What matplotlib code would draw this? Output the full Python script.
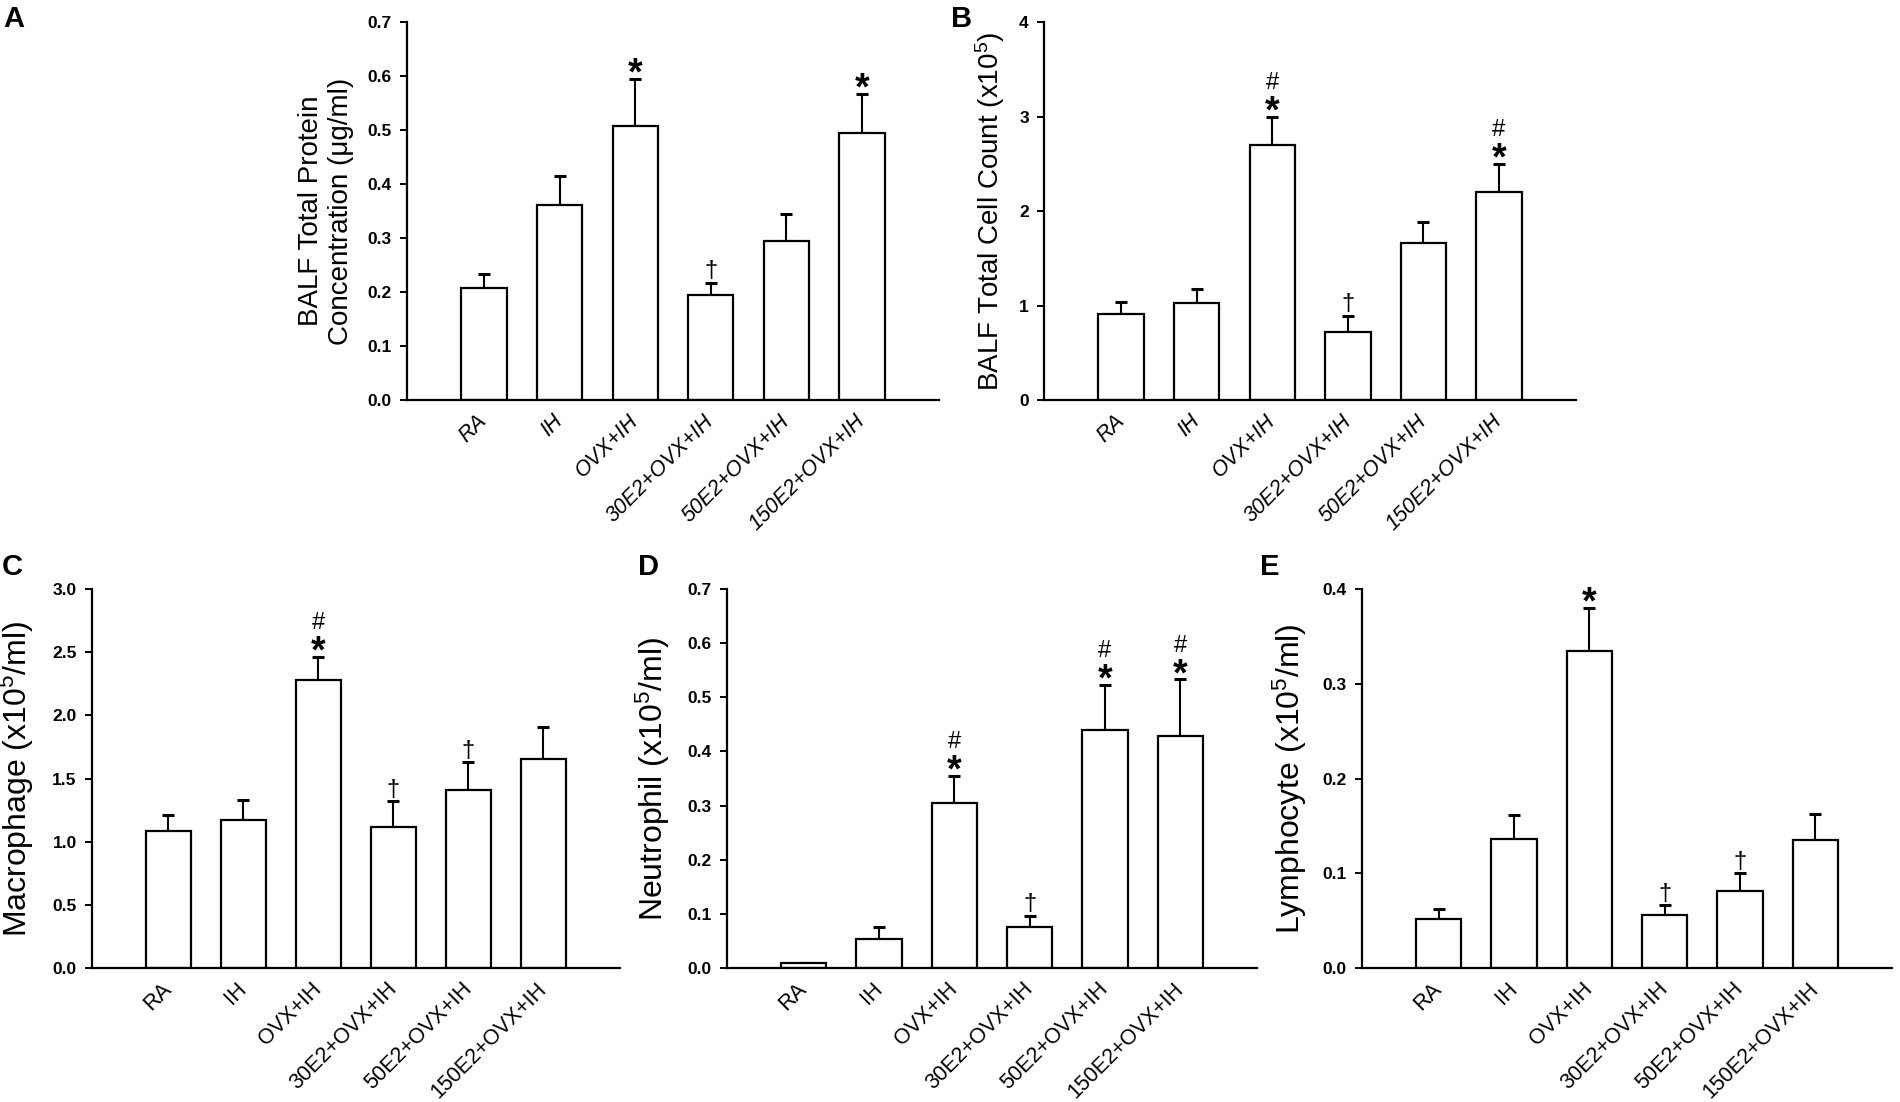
import matplotlib
matplotlib.use('Agg')
import matplotlib.pyplot as plt
import numpy as np

plt.rcParams['font.family'] = ['Liberation Sans', 'DejaVu Sans']
plt.rcParams['mathtext.fontset'] = 'custom'
plt.rcParams['mathtext.rm'] = 'Liberation Sans'
plt.rcParams['mathtext.it'] = 'Liberation Sans:italic'

groups = ['RA', 'IH', 'OVX+IH', '30E2+OVX+IH', '50E2+OVX+IH', '150E2+OVX+IH']

protein_mean = [0.207, 0.362, 0.508, 0.195, 0.294, 0.494]
protein_err = [0.027, 0.053, 0.087, 0.022, 0.050, 0.072]
protein_marks = ['', '', '*', '†', '', '*']

cells_mean = [0.91, 1.03, 2.70, 0.72, 1.66, 2.20]
cells_err = [0.13, 0.14, 0.30, 0.17, 0.22, 0.30]
cells_marks = ['', '', '#*', '†', '', '#*']

macro_mean = [1.085, 1.17, 2.28, 1.12, 1.41, 1.655]
macro_err = [0.125, 0.16, 0.185, 0.20, 0.22, 0.255]
macro_marks = ['', '', '#*', '†', '†', '']

neutro_mean = [0.009, 0.053, 0.305, 0.075, 0.44, 0.428]
neutro_err = [0.0, 0.022, 0.050, 0.021, 0.083, 0.105]
neutro_marks = ['', '', '#*', '†', '#*', '#*']

lympho_mean = [0.052, 0.136, 0.335, 0.056, 0.081, 0.135]
lympho_err = [0.010, 0.026, 0.045, 0.010, 0.019, 0.028]
lympho_marks = ['', '', '*', '†', '†', '']

fig = plt.figure(figsize=(19, 11.02), dpi=100)


def panel(rect, means, errs, marks, ymax, step, fmt, ylabel, label_font, label_x,
          italic, letter, letter_xy):
    ax = fig.add_axes(rect)
    x = np.arange(len(groups))
    ax.bar(x, means, width=0.6, color='white', edgecolor='black', linewidth=1.6, zorder=2)
    ax.errorbar(x, means, yerr=[np.zeros(len(errs)), errs], fmt='none', ecolor='black',
                elinewidth=1.5, capsize=4.5, capthick=2.2, zorder=1)
    ax.set_xlim(-1.02, 6.02)
    ax.set_ylim(0, ymax)
    yt = np.arange(0, ymax + step / 2, step)
    ax.set_yticks(yt)
    ax.set_yticklabels([fmt % v for v in yt], fontsize=12.5, fontweight='bold')
    ax.set_xticks(x)
    ax.set_xticklabels(groups, rotation=45, ha='right', va='center', rotation_mode='anchor',
                       fontsize=15.5, style='italic' if italic else 'normal')
    ax.tick_params(axis='x', length=0, pad=13)
    ax.tick_params(axis='y', length=5, width=1.4, direction='out', pad=6)
    for s in ['top', 'right']:
        ax.spines[s].set_visible(False)
    for s in ['left', 'bottom']:
        ax.spines[s].set_linewidth(1.6)
    ax.set_ylabel(ylabel, fontsize=label_font, multialignment='center')
    ax.yaxis.set_label_coords(label_x, 0.5)

    for xi, m, e in zip(x, means, errs):
        mk = marks[xi]
        if not mk:
            continue
        top = m + e
        if '*' in mk:
            ax.annotate('*', (xi, top), xytext=(0, -4), textcoords='offset points',
                        ha='center', va='baseline', fontsize=27, fontweight='bold')
        if '#' in mk:
            ax.annotate('#', (xi, top), xytext=(0, 20), textcoords='offset points',
                        ha='center', va='baseline', fontsize=17)
        if '†' in mk:
            ax.annotate('†', (xi, top), xytext=(0, 4), textcoords='offset points',
                        ha='center', va='baseline', fontsize=17)
    fig.text(letter_xy[0], letter_xy[1], letter, fontsize=21, fontweight='bold',
             ha='left', va='top')
    return ax


panel([0.2142, 0.6370, 0.2800, 0.3430], protein_mean, protein_err, protein_marks,
      0.7, 0.1, '%.1f', 'BALF Total Protein\nConcentration (μg/ml)', 20, -0.10,
      True, 'A', (0.0015, 0.9955))
panel([0.5495, 0.6370, 0.2800, 0.3430], cells_mean, cells_err, cells_marks,
      4, 1, '%d', 'BALF Total Cell Count (x10$^5$)', 20, -0.07,
      True, 'B', (0.5003, 0.9955))
panel([0.0484, 0.1216, 0.2779, 0.3439], macro_mean, macro_err, macro_marks,
      3.0, 0.5, '%.1f', 'Macrophage (x10$^5$/ml)', 23, -0.106,
      False, 'C', (0.001, 0.498))
panel([0.3826, 0.1216, 0.2790, 0.3439], neutro_mean, neutro_err, neutro_marks,
      0.7, 0.1, '%.1f', 'Neutrophil (x10$^5$/ml)', 23, -0.104,
      False, 'D', (0.336, 0.498))
panel([0.7168, 0.1216, 0.2790, 0.3439], lympho_mean, lympho_err, lympho_marks,
      0.4, 0.1, '%.1f', 'Lymphocyte (x10$^5$/ml)', 23, -0.099,
      False, 'E', (0.663, 0.498))

fig.savefig('out.png', dpi=100, facecolor='white')
